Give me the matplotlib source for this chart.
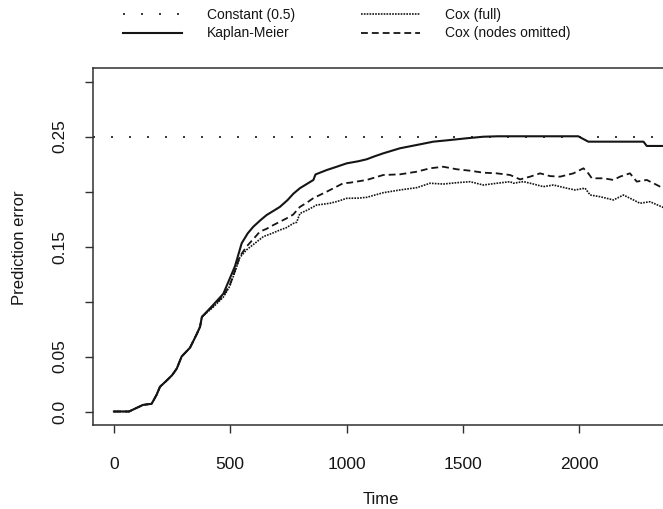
import matplotlib
matplotlib.use("Agg")
import matplotlib.pyplot as plt
import numpy as np

plt.rcParams["font.family"] = ["Liberation Sans", "DejaVu Sans"]

# shared start of all three curves (they coincide up to ~t=380)
early_time = [0, 65, 125, 162, 183, 198, 226, 250, 270, 291, 327, 355, 370, 378]
early_err = [0, 0, 0.006, 0.007, 0.015, 0.0225, 0.028, 0.033, 0.039, 0.050,
             0.058, 0.070, 0.077, 0.086]

km_time = [427, 470, 498, 520, 549, 575, 599, 630, 656, 690, 713, 745, 771, 799,
           830, 857, 866, 914, 957, 1000, 1050, 1086, 1120, 1157, 1229, 1301,
           1372, 1444, 1516, 1587, 1650, 1995, 2005, 2038, 2275, 2289, 2400]
km_err = [0.097, 0.107, 0.121, 0.132, 0.153, 0.162, 0.168, 0.174, 0.1786, 0.183,
          0.186, 0.192, 0.198, 0.203, 0.207, 0.2105, 0.2155, 0.2195, 0.2225,
          0.2256, 0.2275, 0.2293, 0.232, 0.2347, 0.2393, 0.2423, 0.2453, 0.2468,
          0.2484, 0.2498, 0.2502, 0.2502, 0.249, 0.2453, 0.2453, 0.2414, 0.2414]

cox_time = [427, 470, 498, 520, 541, 570, 600, 642, 680, 713, 740, 771, 785, 799,
            830, 871, 928, 960, 1000, 1050, 1086, 1157, 1229, 1301, 1358, 1415,
            1473, 1530, 1587, 1645, 1702, 1716, 1759, 1802, 1845, 1888, 1945,
            1981, 2024, 2046, 2088, 2146, 2189, 2232, 2260, 2303, 2359, 2400]
cox_err = [0.095, 0.104, 0.114, 0.127, 0.140, 0.147, 0.152, 0.159, 0.162, 0.165,
           0.167, 0.171, 0.172, 0.180, 0.183, 0.1877, 0.1893, 0.191, 0.1938,
           0.194, 0.1947, 0.1989, 0.2014, 0.2035, 0.2075, 0.2068, 0.208, 0.2089,
           0.2059, 0.2075, 0.2089, 0.2075, 0.209, 0.2068, 0.2044, 0.2059, 0.203,
           0.2014, 0.203, 0.1968, 0.1953, 0.1923, 0.1968, 0.1923, 0.1893, 0.1907,
           0.1856, 0.185]

nodes_time = [427, 470, 498, 520, 541, 570, 600, 627, 655, 685, 742, 770, 799, 830,
              857, 914, 985, 1014, 1086, 1157, 1229, 1301, 1358, 1415, 1473, 1530,
              1587, 1645, 1702, 1745, 1788, 1831, 1874, 1917, 1974, 2017, 2038,
              2053, 2103, 2146, 2174, 2217, 2246, 2289, 2332, 2359, 2400]
nodes_err = [0.096, 0.105, 0.115, 0.128, 0.141, 0.150, 0.157, 0.1635, 0.166,
             0.1695, 0.1756, 0.179, 0.186, 0.190, 0.194, 0.1998, 0.2075, 0.208,
             0.2105, 0.215, 0.2156, 0.218, 0.2211, 0.2225, 0.2202, 0.2189, 0.2171,
             0.2165, 0.215, 0.211, 0.2135, 0.2165, 0.214, 0.2135, 0.2165, 0.2211,
             0.2165, 0.212, 0.212, 0.2105, 0.2135, 0.2165, 0.209, 0.2105, 0.206,
             0.203, 0.202]

constant_err = 0.25

x_ticks = [0, 500, 1000, 1500, 2000]
y_ticks = [0.0, 0.05, 0.10, 0.15, 0.20, 0.25, 0.30]
y_tick_labels = ["0.0", "0.05", "", "0.15", "", "0.25", ""]

ink = "#151515"
W, H = 663, 509

fig = plt.figure(figsize=(W / 100, H / 100), dpi=100)
# axes box: right edge lies just past the (cropped) figure edge
ax = fig.add_axes([93.3 / W, (H - 424.7) / H, (667 - 93.3) / W, (424.7 - 68.3) / H])
ax.set_xlim(-88.5, 2376)
ax.set_ylim(-0.012, 0.312)

ax.axhline(constant_err, color=ink, lw=1.2, linestyle=(0, (1.2, 9.6)),
           label="Constant (0.5)")
ax.plot(early_time + km_time, early_err + km_err, color=ink, lw=1.5,
        label="Kaplan-Meier")
ax.plot(early_time + cox_time, early_err + cox_err, color=ink, lw=1.2,
        linestyle=(0, (1, 0.7)), label="Cox (full)")
ax.plot(early_time + nodes_time, early_err + nodes_err, color=ink, lw=1.3,
        linestyle=(0, (3.8, 2.2)), label="Cox (nodes omitted)")

for s in ax.spines.values():
    s.set_linewidth(1.1)
    s.set_color("#303030")

ax.set_xticks(x_ticks)
ax.set_xticklabels([str(t) for t in x_ticks], fontsize=12.5, color=ink, va="center")
ax.set_yticks(y_ticks)
ax.set_yticklabels(y_tick_labels, fontsize=12.5, color=ink, rotation=90,
                   ha="center", va="center")
ax.tick_params(axis="both", direction="out", length=5.5, width=1.0, color="#303030")
ax.tick_params(axis="x", pad=23)
ax.tick_params(axis="y", pad=18.5)

fig.text(381 / W, 1 - 500 / H, "Time", fontsize=12, color=ink, ha="center", va="center")
fig.text(20 / W, 1 - 248 / H, "Prediction error", fontsize=12, color=ink,
         rotation=90, ha="center", va="center")

handles, labels = ax.get_legend_handles_labels()
fig.legend(handles, labels, ncol=2, frameon=False, fontsize=10,
           loc="upper left", bbox_to_anchor=(123 / W, 1 - 8 / H),
           borderpad=0, borderaxespad=0, handlelength=4.25, handletextpad=1.78,
           columnspacing=4.75, labelspacing=0.32, labelcolor=ink)

fig.savefig("out.png", dpi=100)
